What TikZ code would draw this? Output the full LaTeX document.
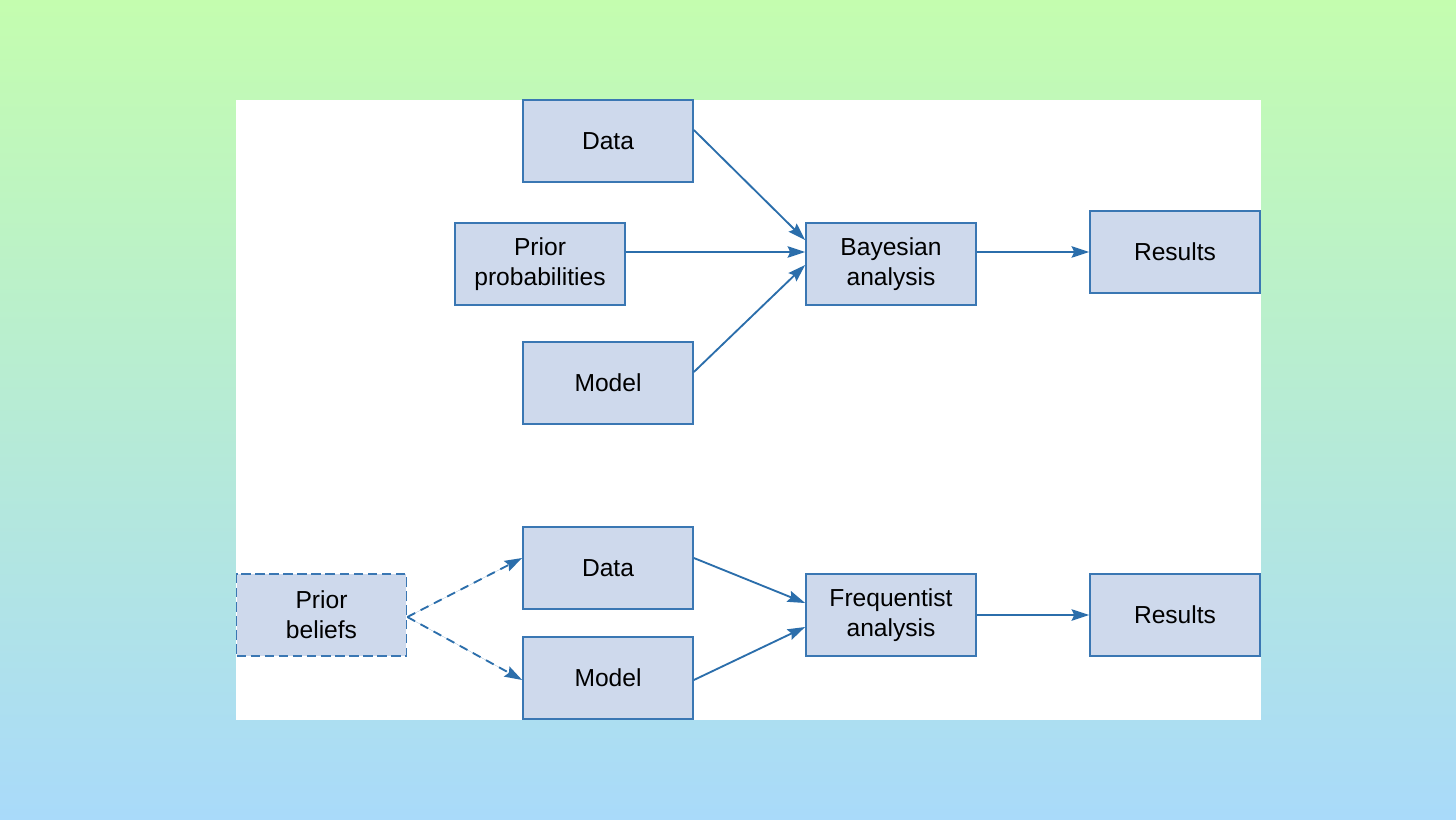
\documentclass[tikz,border=0pt]{standalone}
\usepackage{fontspec}
\setmainfont{Liberation Sans}
\usetikzlibrary{arrows.meta}

\definecolor{boxfill}{HTML}{CED9EC}
\definecolor{boxline}{HTML}{3A77B3}
\definecolor{arrowcol}{HTML}{2B6EAB}
\definecolor{bgtop}{HTML}{C4FDAF}
\definecolor{bgbottom}{HTML}{A9DAFA}

\begin{document}
\begin{tikzpicture}[
	x=0.02cm, y=-0.02cm,
	cell/.style={
		rectangle,
		fill=boxfill,
		draw=boxline,
		line width=1pt,
		minimum width=3.4cm,
		minimum height=1.64cm,
		inner sep=0pt,
		align=center,
		font=\fontsize{14}{17}\selectfont,
	},
	dashcell/.style={
		cell,
		dash pattern=on 5.5pt off 2.5pt,
	},
	ArrowC1/.style={% plain arrows
		-{Stealth[length=10pt,width=6.5pt,inset=1.5pt]},
		draw=arrowcol,
		fill=arrowcol,
		line width=1.05pt,
	},
	ArrowD1/.style={% dashed arrows from the prior beliefs
		ArrowC1,
		dash pattern=on 5pt off 3.5pt,
	},
]
	% background and panel
	\shade [top color=bgtop, bottom color=bgbottom] (0,0) rectangle (1456,820);
	\fill [white] (236,100) rectangle (1261,720);

	% Bayesian
	\node [cell] (data1) at (608,141) {Data};
	\node [cell] (prior1) at (540,264) {Prior\\probabilities};
	\node [cell] (model1) at (608,383) {Model};
	\node [cell] (bayes) at (891,264) {Bayesian\\analysis};
	\node [cell] (results1) at (1175,252) {Results};

	% Frequentist
	\node [dashcell] (beliefs) at (321.5,615) {Prior\\beliefs};
	\node [cell] (data2) at (608,568) {Data};
	\node [cell] (model2) at (608,678) {Model};
	\node [cell] (freq) at (891,615) {Frequentist\\analysis};
	\node [cell] (results2) at (1175,615) {Results};

	\draw [ArrowC1] ([yshift=0.22cm]data1.east) -- ([yshift=0.48cm]bayes.west);
	\draw [ArrowC1] ([yshift=0.24cm]prior1.east) -- ([yshift=0.24cm]bayes.west);
	\draw [ArrowC1] ([yshift=0.22cm]model1.east) -- ([yshift=-0.02cm]bayes.west);
	\draw [ArrowC1] (bayes.east |- results1.west) -- (results1.west);

	\draw [ArrowD1] ([yshift=-0.04cm]beliefs.east) -- ([yshift=0.2cm]data2.east -| data2.west);
	\draw [ArrowD1] ([yshift=-0.04cm]beliefs.east) -- ([yshift=-0.04cm]model2.west);
	\draw [ArrowC1] ([yshift=0.2cm]data2.east) -- ([yshift=0.24cm]freq.west);
	\draw [ArrowC1] ([yshift=-0.04cm]model2.east) -- ([yshift=-0.24cm]freq.west);
	\draw [ArrowC1] (freq.east) -- (results2.west);
\end{tikzpicture}
\end{document}
